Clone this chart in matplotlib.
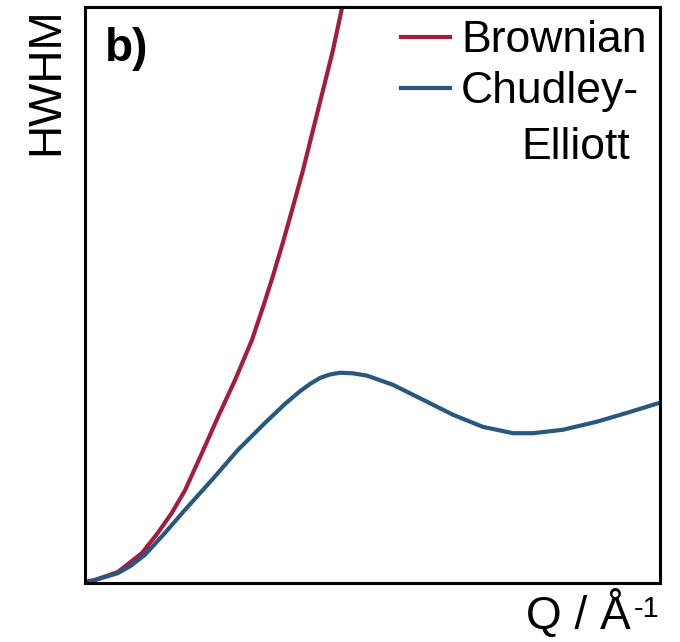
import matplotlib.pyplot as plt

plt.rcParams['font.family'] = ['Liberation Sans', 'DejaVu Sans']

# valores (unidades arbitrarias)
q_brown = [0, 0.043, 0.143, 0.248, 0.317, 0.378, 0.435, 0.509, 0.578, 0.652,
           0.726, 0.778, 0.817, 0.861, 0.904, 0.948, 0.991, 1.035, 1.078, 1.117]
hwhm_brown = [0.002, 0.005, 0.019, 0.052, 0.087, 0.122, 0.161, 0.226, 0.288, 0.352,
              0.422, 0.484, 0.533, 0.592, 0.653, 0.717, 0.786, 0.856, 0.925, 0.998]

q_ce = [0, 0.143, 0.200, 0.261, 0.348, 0.435, 0.552, 0.665, 0.783, 0.870, 0.935,
        0.980, 1.022, 1.065, 1.109, 1.165, 1.226, 1.339, 1.470, 1.600, 1.730,
        1.861, 1.948, 2.078, 2.226, 2.370, 2.5]
hwhm_ce = [0, 0.017, 0.030, 0.049, 0.087, 0.127, 0.179, 0.231, 0.278, 0.311, 0.333,
           0.346, 0.356, 0.362, 0.365, 0.364, 0.360, 0.344, 0.318, 0.292, 0.271,
           0.260, 0.260, 0.266, 0.280, 0.297, 0.313]

cor_brown = "#A51C3D"
cor_ce = "#285880"

fig = plt.figure(figsize=(6.8, 6.42), dpi=100)
ax = fig.add_axes([0.125, 0.092, 0.8456, 0.897])

l1, = ax.plot(q_brown, hwhm_brown, color=cor_brown, lw=3, solid_joinstyle='round')
l2, = ax.plot(q_ce, hwhm_ce, color=cor_ce, lw=3, solid_joinstyle='round')

ax.set_xlim(0, 2.5)
ax.set_ylim(0, 1)
ax.set_xticks([])
ax.set_yticks([])
for s in ax.spines.values():
    s.set_linewidth(2.2)

ax.set_ylabel("HWHM", fontsize=33, loc='top', labelpad=12)
ax.set_xlabel("Q / Å", fontsize=33, loc='right', labelpad=5)
# expoente -1 com hifen, como no original
ax.xaxis.label.set_position((0.949, 0))
ax.annotate("-1", xy=(1, 0.45), xycoords=ax.xaxis.label, xytext=(2, 0),
            textcoords='offset points', fontsize=21, ha='left', va='baseline')

ax.text(0.035, 0.965, "b)", transform=ax.transAxes, fontsize=33,
        fontweight='bold', va='top', ha='left')

ax.legend([l1, l2], ["Brownian", "Chudley-"], loc='upper right', frameon=False,
          fontsize=32, handlelength=1.1, handletextpad=0.25, labelspacing=0.22,
          borderaxespad=0.1, borderpad=0.2)
ax.text(0.948, 0.736, "Elliott", transform=ax.transAxes, fontsize=32,
        ha='right', va='baseline')

plt.savefig("out.png", dpi=100)
